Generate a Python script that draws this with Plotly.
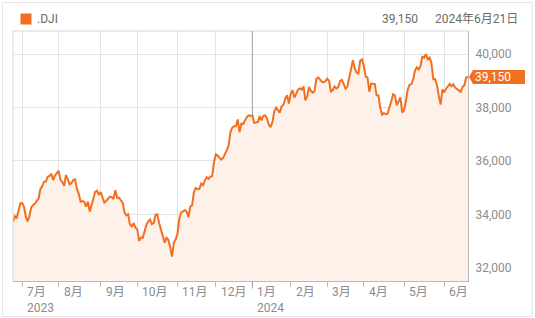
import pandas as pd
import plotly.graph_objects as go

# ---------------- data ----------------
holidays = ["2023-07-04", "2023-09-04", "2023-11-23", "2023-12-25", "2024-01-01",
            "2024-01-15", "2024-02-19", "2024-03-29", "2024-05-27", "2024-06-19"]
dates = [d.strftime("%Y-%m-%d") for d in pd.bdate_range("2023-06-26", "2024-06-21")
         if d.strftime("%Y-%m-%d") not in holidays]

jun23 = [33714.71, 33926.74, 33852.66, 34122.42, 34407.60]
jul23 = [34418.47, 34288.64, 33922.26, 33734.88, 33944.40, 34261.42, 34347.43, 34395.14,
         34509.03, 34585.35, 34951.93, 35061.21, 35225.18, 35227.69, 35411.24, 35438.07,
         35520.12, 35282.52, 35459.29, 35559.53]
aug23 = [35630.68, 35282.72, 35215.89, 35065.62, 35473.13, 35314.49, 35123.36, 35176.15,
         35281.40, 35307.63, 34946.39, 34765.74, 34474.83, 34500.66, 34463.69, 34288.83,
         34472.98, 34099.42, 34346.90, 34559.98, 34852.67, 34890.24, 34721.91]
sep23 = [34837.71, 34641.97, 34443.19, 34500.73, 34576.59, 34663.72, 34645.99, 34575.53,
         34907.11, 34618.24, 34624.30, 34517.73, 34440.88, 34070.42, 33963.84, 34006.88,
         33618.88, 33550.27, 33666.34, 33507.50]
oct23 = [33433.35, 33002.38, 33129.55, 33119.57, 33407.58, 33604.65, 33739.30, 33804.87,
         33631.14, 33670.29, 33984.54, 33997.65, 33665.08, 33414.17, 33127.28, 32936.41,
         33141.38, 33035.93, 32784.30, 32417.59, 32928.96, 33052.87]
nov23 = [33274.58, 33839.08, 34061.32, 34095.86, 34152.60, 34112.27, 33891.94, 34283.10,
         34337.87, 34827.70, 34991.21, 34945.47, 34947.28, 35151.04, 35088.29, 35273.03,
         35390.15, 35333.47, 35416.98, 35430.42, 35950.89]
dec23 = [36245.50, 36204.44, 36124.56, 36054.43, 36117.38, 36247.87, 36404.93, 36577.94,
         37090.24, 37248.35, 37305.16, 37306.02, 37557.92, 37082.00, 37404.35, 37385.97,
         37545.33, 37656.52, 37710.10, 37689.54]
jan24 = [37715.04, 37430.19, 37440.34, 37466.11, 37683.01, 37525.16, 37695.73, 37711.02,
         37592.98, 37361.12, 37266.67, 37468.61, 37863.80, 38001.81, 37905.45, 37806.39,
         38049.13, 38109.43, 38333.45, 38467.31, 38150.30]
feb24 = [38519.84, 38654.42, 38380.12, 38521.36, 38677.36, 38726.33, 38671.69, 38797.38,
         38272.75, 38424.27, 38773.12, 38627.99, 38563.80, 38612.24, 39069.11, 39131.53,
         39069.23, 38972.41, 38949.02, 38996.39]
mar24 = [39087.38, 38989.83, 38585.19, 38661.05, 38791.35, 38722.69, 38769.66, 39005.49,
         39043.32, 38905.66, 38714.77, 38790.43, 39110.76, 39512.13, 39781.37, 39475.90,
         39313.64, 39282.33, 39760.08, 39807.37]
apr24 = [39566.85, 39170.24, 39127.14, 38596.98, 38904.04, 38892.80, 38883.67, 38461.51,
         38459.08, 37983.24, 37735.11, 37798.97, 37753.31, 37775.38, 37986.40, 38239.98,
         38503.69, 38460.92, 38085.80, 38239.66, 38386.09, 37815.92]
may24 = [37903.29, 38225.66, 38675.68, 38852.27, 38884.26, 39056.39, 39387.76, 39512.84,
         39431.51, 39558.11, 39908.00, 39869.38, 40003.59, 39806.77, 39872.99, 39671.04,
         39065.26, 39069.59, 38852.86, 38441.54, 38111.48, 38686.32]
jun24 = [38571.03, 38711.29, 38807.33, 38886.17, 38798.99, 38868.04, 38747.42, 38712.21,
         38647.10, 38589.16, 38778.10, 38834.86, 39134.76, 39150.33]

values = (jun23 + jul23 + aug23 + sep23 + oct23 + nov23 + dec23 + jan24 + feb24 + mar24
          + apr24 + may24 + jun24)
n = min(len(dates), len(values))
dates, values = dates[:n], values[:n]

tick_dates = ["2023-07-03", "2023-08-01", "2023-09-01", "2023-10-02", "2023-11-01",
              "2023-12-01", "2024-01-02", "2024-02-01", "2024-03-01", "2024-04-01",
              "2024-05-01", "2024-06-03"]
month_labels = ["7月", "8月", "9月", "10月", "11月", "12月", "1月", "2月", "3月", "4月",
                "5月", "6月"]
year_labels = {"2023-07-03": "2023", "2024-01-02": "2024"}
y_ticks = [32000, 34000, 36000, 38000, 40000]
y_range = [31500, 40873]

symbol = ".DJI"
last_label = "39,150"
date_label = "2024年6月21日"

# ---------------- style ----------------
ORANGE = "#f1701f"
FILL = "#fdf1e9"
GRID = "#e3e3e3"
AXIS = "#b9b9b9"
LABEL = "#8c8c8c"
HEAD = "#6b6b6b"
FONT = "Roboto, 'Noto Sans CJK JP', sans-serif"

fig = go.Figure()
fig.add_trace(go.Scatter(
    x=dates, y=values, mode="lines",
    line=dict(color=ORANGE, width=2),
    fill="tozeroy", fillcolor=FILL,
    hoverinfo="skip", showlegend=False,
))

W, H = 535, 318
ml, mr, mt, mb = 13, 67, 31, 37

fig.update_layout(
    width=W, height=H,
    margin=dict(l=ml, r=mr, t=mt, b=mb, pad=0),
    paper_bgcolor="white", plot_bgcolor="white",
    font=dict(family=FONT, size=12, color=LABEL),
    showlegend=False,
)
fig.update_xaxes(
    type="date",
    range=[dates[0], dates[-1]],
    rangebreaks=[dict(bounds=["sat", "mon"]), dict(values=holidays)],
    tickvals=tick_dates, showticklabels=False,
    ticks="outside", ticklen=5, tickcolor=AXIS, tickwidth=1,
    showgrid=True, gridcolor=GRID, gridwidth=1,
    showline=True, linecolor=AXIS, linewidth=1,
    zeroline=False, fixedrange=True,
)
fig.update_yaxes(
    side="right",
    range=y_range,
    tickvals=y_ticks, ticktext=[f"{v:,}" for v in y_ticks],
    ticks="", ticklabelstandoff=4,
    tickfont=dict(size=12, color=LABEL),
    showgrid=True, gridcolor=GRID, gridwidth=1,
    showline=True, linecolor=AXIS, linewidth=1,
    zeroline=False, fixedrange=True,
)

pw = W - ml - mr
ph = H - mt - mb


def px_x(p):
    return (p - ml) / pw


def px_y(p):
    return (H - mb - p) / ph


shapes = []
# top / left light frame lines
shapes.append(dict(type="line", xref="paper", yref="paper", x0=0, x1=1, y0=1, y1=1,
                   line=dict(color="#d6d6d6", width=1), layer="above"))
shapes.append(dict(type="line", xref="paper", yref="paper", x0=0, x1=0, y0=0, y1=1,
                   line=dict(color="#d6d6d6", width=1), layer="above"))
# year boundary line: from the curve up to the top, plus a longer tick below the axis
for d in year_labels:
    if d != tick_dates[0]:
        v_at = values[dates.index(d)]
        shapes.append(dict(type="line", xref="x", yref="y", x0=d, x1=d,
                           y0=v_at, y1=y_range[1],
                           line=dict(color="#a3a3a3", width=1), layer="above"))
        shapes.append(dict(type="line", xref="x", yref="paper", x0=d, x1=d,
                           y0=px_y(288.5), y1=0,
                           line=dict(color="#a3a3a3", width=1), layer="above"))
# outer card border
shapes.append(dict(type="rect", xref="paper", yref="paper",
                   x0=px_x(2.5), x1=px_x(532), y0=px_y(316.5), y1=px_y(2.5),
                   line=dict(color="#e4e4e4", width=1), fillcolor="rgba(0,0,0,0)"))
# legend square
shapes.append(dict(type="rect", xref="paper", yref="paper",
                   x0=px_x(20.5), x1=px_x(31.5), y0=px_y(24.5), y1=px_y(13.5),
                   line=dict(width=0), fillcolor=ORANGE))
# last-price tag
shapes.append(dict(type="path", xref="paper", yref="y", xsizemode="pixel", ysizemode="pixel",
                   xanchor=1, yanchor=values[-1],
                   path="M1,0 L5,7 L57,7 L57,-7 L5,-7 Z",
                   fillcolor=ORANGE, line=dict(width=0), layer="above"))
fig.update_layout(shapes=shapes)

ann = []
for d, m in zip(tick_dates, month_labels):
    ann.append(dict(x=d, xref="x", y=px_y(292), yref="paper", text=m, showarrow=False,
                    xanchor="left", yanchor="middle", xshift=3,
                    font=dict(size=12, color=LABEL, family=FONT)))
    if d in year_labels:
        ann.append(dict(x=d, xref="x", y=px_y(307.5), yref="paper", text=year_labels[d],
                        showarrow=False, xanchor="left", yanchor="middle", xshift=3,
                        font=dict(size=12, color=LABEL, family=FONT)))
ann.append(dict(x=1, xref="paper", y=values[-1], yref="y", text=last_label, showarrow=False,
                xanchor="left", yanchor="middle", xshift=5,
                font=dict(size=12, color="white", family=FONT)))
ann.append(dict(x=px_x(35), xref="paper", y=px_y(19), yref="paper", text=symbol,
                showarrow=False, xanchor="left", yanchor="middle",
                font=dict(size=12, color=HEAD, family=FONT)))
ann.append(dict(x=px_x(419.5), xref="paper", y=px_y(19), yref="paper", text=last_label,
                showarrow=False, xanchor="right", yanchor="middle",
                font=dict(size=12, color=HEAD, family=FONT)))
ann.append(dict(x=px_x(519.5), xref="paper", y=px_y(19), yref="paper", text=date_label,
                showarrow=False, xanchor="right", yanchor="middle",
                font=dict(size=12, color=HEAD, family=FONT)))
fig.update_layout(annotations=ann)

fig.write_html("out.html", config={"displayModeBar": False})
